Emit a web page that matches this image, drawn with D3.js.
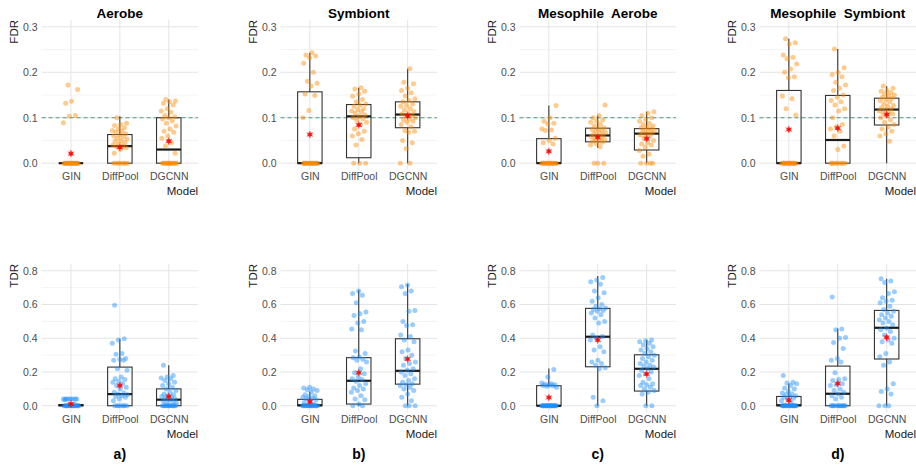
<!DOCTYPE html>
<html>
<head>
<meta charset="utf-8">
<script src="https://cdn.jsdelivr.net/npm/d3@7"></script>
<style>
  body { margin: 0; background: #fff; }
  text { font-family: "Liberation Sans", Arial, sans-serif; }
</style>
</head>
<body>
<div class="canvas"></div>
<script>
// categories and labels
const models = ['GIN', 'DiffPool', 'DGCNN'];
const titles = ['Aerobe', 'Symbiont', 'Mesophile  Aerobe', 'Mesophile  Symbiont'];
const tags = ['a)', 'b)', 'c)', 'd)'];
const fdrTicks = [0, 0.1, 0.2, 0.3];
const fdrMinor = [0.05, 0.15, 0.25];
const tdrTicks = [0, 0.2, 0.4, 0.6, 0.8];
const tdrMinor = [0.1, 0.3, 0.5, 0.7];
const fdrTarget = 0.1;

// box summaries per panel, per model: [lower whisker, q1, median, q3, upper whisker]
const fdrBoxes = [
  [[0, 0, 0, 0, 0], [0, 0, 0.0375, 0.063, 0.103], [0, 0, 0.030, 0.100, 0.140]],
  [[0, 0, 0, 0.157, 0.243], [0, 0.012, 0.103, 0.129, 0.166], [0, 0.078, 0.107, 0.135, 0.208]],
  [[0, 0, 0, 0.054, 0.127], [0.034, 0.047, 0.061, 0.077, 0.105], [0, 0.029, 0.065, 0.076, 0.113]],
  [[0, 0, 0, 0.160, 0.274], [0, 0, 0.051, 0.149, 0.251], [0, 0.084, 0.118, 0.143, 0.169]]
];
const fdrMeans = [
  [0.021, 0.035, 0.0485],
  [0.063, 0.084, 0.104],
  [0.026, 0.057, 0.054],
  [0.074, 0.077, 0.107]
];
const tdrBoxes = [
  [[0, 0, 0.003, 0.006, 0.010], [0, 0, 0.069, 0.229, 0.397], [0, 0, 0.036, 0.100, 0.240]],
  [[0, 0, 0.003, 0.038, 0.083], [0, 0.010, 0.148, 0.285, 0.686], [0, 0.128, 0.207, 0.397, 0.721]],
  [[0, 0, 0, 0.119, 0.221], [0, 0.231, 0.409, 0.577, 0.769], [0, 0.087, 0.219, 0.302, 0.389]],
  [[0, 0, 0.003, 0.055, 0.132], [0, 0, 0.071, 0.235, 0.458], [0, 0.277, 0.462, 0.565, 0.753]]
];
const tdrMeans = [
  [0.010, 0.120, 0.055],
  [0.024, 0.196, 0.277],
  [0.049, 0.389, 0.188],
  [0.032, 0.132, 0.405]
];

// individual runs (GIN, DiffPool, DGCNN)
const fdrAerobe = [
  [0.172, 0.162, 0.136, 0.132, 0.105, 0.103, 0.089, 0, 0, 0, 0, 0, 0, 0, 0, 0, 0, 0, 0, 0, 0, 0, 0, 0, 0, 0, 0],
  [0.1, 0.088, 0.085, 0.083, 0.078, 0.075, 0.072, 0.07, 0.068, 0.065, 0.062, 0.06, 0.058, 0.055, 0.053, 0.05, 0.048, 0.045, 0.043, 0.04, 0.038, 0.036, 0.034, 0.03, 0.022, 0, 0, 0, 0, 0, 0, 0, 0],
  [0.14, 0.137, 0.135, 0.132, 0.128, 0.12, 0.115, 0.112, 0.105, 0.102, 0.1, 0.097, 0.093, 0.088, 0.082, 0.075, 0.07, 0.068, 0.06, 0.055, 0.045, 0.038, 0.022, 0, 0, 0, 0, 0, 0, 0, 0, 0, 0, 0, 0, 0, 0]
];
const fdrSymbiont = [
  [0.243, 0.238, 0.236, 0.232, 0.22, 0.2, 0.18, 0.176, 0.17, 0.152, 0.149, 0.116, 0.1, 0, 0, 0, 0, 0, 0, 0, 0, 0, 0, 0, 0, 0, 0, 0, 0, 0, 0],
  [0.166, 0.163, 0.158, 0.152, 0.147, 0.14, 0.135, 0.13, 0.128, 0.125, 0.12, 0.118, 0.115, 0.113, 0.11, 0.106, 0.103, 0.1, 0.098, 0.095, 0.09, 0.085, 0.075, 0.07, 0.065, 0.06, 0.052, 0.04, 0, 0, 0],
  [0.208, 0.178, 0.175, 0.165, 0.16, 0.155, 0.148, 0.142, 0.138, 0.135, 0.13, 0.127, 0.125, 0.12, 0.117, 0.113, 0.11, 0.108, 0.105, 0.102, 0.1, 0.097, 0.095, 0.092, 0.09, 0.085, 0.08, 0.072, 0.07, 0.068, 0.05, 0.045, 0.032, 0, 0]
];
const fdrMesoAerobe = [
  [0.127, 0.1, 0.092, 0.088, 0.086, 0.075, 0.073, 0.072, 0.055, 0.05, 0.045, 0.042, 0, 0, 0, 0, 0, 0, 0, 0, 0, 0, 0, 0, 0, 0, 0, 0],
  [0.128, 0.105, 0.1, 0.095, 0.092, 0.09, 0.085, 0.082, 0.078, 0.076, 0.074, 0.072, 0.07, 0.068, 0.066, 0.064, 0.062, 0.06, 0.058, 0.056, 0.054, 0.052, 0.05, 0.048, 0.046, 0.043, 0.04, 0.036, 0, 0, 0],
  [0.113, 0.11, 0.105, 0.1, 0.096, 0.092, 0.088, 0.085, 0.082, 0.08, 0.078, 0.076, 0.074, 0.072, 0.07, 0.068, 0.066, 0.064, 0.062, 0.06, 0.055, 0.05, 0.045, 0.042, 0.04, 0.035, 0.028, 0.02, 0.015, 0, 0, 0, 0]
];
const fdrMesoSymbiont = [
  [0.274, 0.265, 0.262, 0.238, 0.233, 0.23, 0.218, 0.207, 0.2, 0.19, 0.188, 0.148, 0.142, 0.12, 0.106, 0, 0, 0, 0, 0, 0, 0, 0, 0, 0, 0, 0, 0, 0, 0, 0, 0],
  [0.251, 0.21, 0.2, 0.195, 0.19, 0.178, 0.172, 0.165, 0.16, 0.15, 0.145, 0.138, 0.135, 0.128, 0.12, 0.115, 0.1, 0.085, 0.08, 0.075, 0.07, 0.06, 0.038, 0.03, 0, 0, 0, 0, 0, 0, 0, 0, 0],
  [0.17, 0.165, 0.16, 0.158, 0.155, 0.152, 0.15, 0.148, 0.145, 0.143, 0.14, 0.138, 0.135, 0.13, 0.127, 0.125, 0.122, 0.12, 0.118, 0.115, 0.112, 0.11, 0.108, 0.105, 0.1, 0.095, 0.09, 0.085, 0.08, 0.075, 0.07, 0.065, 0.06, 0.048]
];
const tdrAerobe = [
  [0.04, 0.04, 0.04, 0.04, 0.04, 0.04, 0.04, 0.04, 0.035, 0.01, 0.005, 0, 0, 0, 0, 0, 0, 0, 0, 0, 0, 0, 0, 0, 0, 0, 0],
  [0.595, 0.397, 0.39, 0.37, 0.31, 0.305, 0.28, 0.275, 0.27, 0.27, 0.22, 0.21, 0.17, 0.16, 0.155, 0.145, 0.14, 0.13, 0.12, 0.11, 0.1, 0.08, 0.075, 0.07, 0.065, 0.06, 0.055, 0.05, 0.04, 0.03, 0, 0, 0, 0, 0, 0, 0],
  [0.24, 0.18, 0.17, 0.165, 0.16, 0.15, 0.14, 0.13, 0.12, 0.11, 0.1, 0.09, 0.08, 0.07, 0.065, 0.06, 0.055, 0.05, 0.045, 0.04, 0.035, 0.03, 0.025, 0.02, 0.015, 0, 0, 0, 0, 0, 0, 0, 0, 0, 0, 0, 0]
];
const tdrSymbiont = [
  [0.11, 0.105, 0.1, 0.095, 0.09, 0.08, 0.065, 0.06, 0.055, 0.05, 0.045, 0.04, 0.035, 0.03, 0.02, 0.01, 0, 0, 0, 0, 0, 0, 0, 0, 0, 0, 0, 0, 0, 0, 0, 0],
  [0.68, 0.665, 0.655, 0.61, 0.555, 0.545, 0.535, 0.5, 0.49, 0.455, 0.45, 0.325, 0.31, 0.29, 0.285, 0.275, 0.27, 0.26, 0.22, 0.195, 0.19, 0.17, 0.16, 0.155, 0.145, 0.13, 0.12, 0.105, 0.1, 0.09, 0.08, 0.06, 0.04, 0.035, 0.01, 0, 0],
  [0.715, 0.705, 0.68, 0.665, 0.565, 0.56, 0.5, 0.48, 0.475, 0.42, 0.41, 0.39, 0.38, 0.33, 0.32, 0.3, 0.28, 0.26, 0.25, 0.24, 0.22, 0.21, 0.2, 0.19, 0.18, 0.16, 0.15, 0.14, 0.13, 0.125, 0.12, 0.11, 0.1, 0.09, 0.07, 0.05, 0.03, 0, 0, 0]
];
const tdrMesoAerobe = [
  [0.215, 0.17, 0.135, 0.13, 0.128, 0.125, 0.123, 0.12, 0.118, 0.115, 0.11, 0, 0, 0, 0, 0, 0, 0, 0, 0, 0, 0, 0, 0, 0, 0, 0, 0, 0, 0, 0, 0, 0],
  [0.76, 0.745, 0.735, 0.72, 0.68, 0.67, 0.64, 0.62, 0.6, 0.59, 0.58, 0.575, 0.57, 0.565, 0.56, 0.55, 0.54, 0.52, 0.5, 0.49, 0.42, 0.41, 0.4, 0.39, 0.35, 0.33, 0.32, 0.27, 0.26, 0.25, 0.24, 0.225, 0.22, 0.05, 0.03, 0],
  [0.39, 0.385, 0.38, 0.37, 0.36, 0.35, 0.34, 0.33, 0.32, 0.31, 0.3, 0.29, 0.28, 0.27, 0.26, 0.25, 0.24, 0.235, 0.23, 0.22, 0.21, 0.2, 0.19, 0.18, 0.16, 0.14, 0.13, 0.125, 0.12, 0.11, 0.1, 0.09, 0.08, 0.07, 0, 0]
];
const tdrMesoSymbiont = [
  [0.18, 0.14, 0.135, 0.13, 0.12, 0.105, 0.1, 0.085, 0.075, 0.07, 0.065, 0.06, 0.055, 0.05, 0.045, 0.04, 0.03, 0.02, 0, 0, 0, 0, 0, 0, 0, 0, 0, 0, 0, 0, 0, 0, 0, 0, 0, 0],
  [0.645, 0.455, 0.45, 0.405, 0.4, 0.375, 0.34, 0.28, 0.27, 0.26, 0.195, 0.16, 0.155, 0.15, 0.13, 0.125, 0.12, 0.1, 0.09, 0.08, 0.07, 0.06, 0.05, 0.04, 0, 0, 0, 0, 0, 0, 0, 0, 0, 0, 0, 0],
  [0.753, 0.74, 0.73, 0.675, 0.665, 0.64, 0.625, 0.62, 0.61, 0.59, 0.57, 0.56, 0.55, 0.54, 0.53, 0.52, 0.51, 0.5, 0.49, 0.48, 0.46, 0.45, 0.44, 0.42, 0.4, 0.39, 0.38, 0.37, 0.31, 0.29, 0.26, 0.24, 0.13, 0.1, 0.085, 0.07, 0, 0, 0]
];

const width = 916, height = 467;
const svg = d3.select('.canvas')
    .append('svg')
    .attr('width', width)
    .attr('height', height);

// panel geometry
const panelLeft = [41.6, 280.5, 519.5, 759.5];
const panelW = 156.5;

const rows = [
    { label: 'FDR', top: 20, bottom: 170, domain: [-0.015, 0.315], ticks: fdrTicks, minor: fdrMinor,
      boxes: fdrBoxes, means: fdrMeans, points: [fdrAerobe, fdrSymbiont, fdrMesoAerobe, fdrMesoSymbiont],
      color: '#ff8c00', ref: fdrTarget },
    { label: 'TDR', top: 264, bottom: 412.5, domain: [-0.04, 0.84], ticks: tdrTicks, minor: tdrMinor,
      boxes: tdrBoxes, means: tdrMeans, points: [tdrAerobe, tdrSymbiont, tdrMesoAerobe, tdrMesoSymbiont],
      color: '#1e90ff', ref: null }
];

// deterministic spread for the jittered points
const jitter = i => ((i * 0.6180339 + 0.31) % 1) - 0.5;
const star = d3.symbol().type(d3.symbolAsterisk).size(36);

rows.forEach((row, r) => {
    titles.forEach((title, p) => {
        const left = panelLeft[p];
        const x = d3.scalePoint()
            .domain(models)
            .range([left, left + panelW])
            .padding(0.6);
        const step = x.step();
        const y = d3.scaleLinear()
            .domain(row.domain)
            .range([row.bottom, row.top]);

        const g = svg.append('g');

        // grid
        g.selectAll('.minor')
            .data(row.minor)
            .enter().append('line')
            .attr('x1', left).attr('x2', left + panelW)
            .attr('y1', d => y(d)).attr('y2', d => y(d))
            .attr('stroke', '#efefef').attr('stroke-width', 0.7);
        g.selectAll('.major')
            .data(row.ticks)
            .enter().append('line')
            .attr('x1', left).attr('x2', left + panelW)
            .attr('y1', d => y(d)).attr('y2', d => y(d))
            .attr('stroke', '#e4e4e4').attr('stroke-width', 1);
        g.selectAll('.vgrid')
            .data(models)
            .enter().append('line')
            .attr('x1', d => x(d)).attr('x2', d => x(d))
            .attr('y1', row.top).attr('y2', row.bottom)
            .attr('stroke', '#e4e4e4').attr('stroke-width', 1);

        // axes
        const yAxis = d3.axisLeft(y)
            .tickValues(row.ticks)
            .tickSize(0)
            .tickPadding(4)
            .tickFormat(d3.format('.1f'));
        const xAxis = d3.axisBottom(x)
            .tickSize(0)
            .tickPadding(3);

        const yAxisGroup = g.append('g')
            .attr('transform', `translate(${left},0)`)
            .call(yAxis);
        const xAxisGroup = g.append('g')
            .attr('transform', `translate(0,${row.bottom})`)
            .call(xAxis);
        [yAxisGroup, xAxisGroup].forEach(a => {
            a.select('.domain').remove();
            a.selectAll('text')
                .attr('fill', '#4d4d4d')
                .attr('font-size', 10.5)
                .attr('font-family', '"Liberation Sans", Arial, sans-serif');
        });

        // axis titles
        g.append('text')
            .attr('transform', `translate(${left - 24},${row.top}) rotate(-90)`)
            .attr('text-anchor', 'end')
            .attr('font-size', 11.5)
            .attr('fill', '#1a1a1a')
            .text(row.label);
        g.append('text')
            .attr('x', left + panelW)
            .attr('y', row.bottom + 25)
            .attr('text-anchor', 'end')
            .attr('font-size', 11.5)
            .attr('fill', '#1a1a1a')
            .text('Model');

        // reference line
        if (row.ref !== null) {
            g.append('line')
                .attr('x1', left).attr('x2', left + panelW)
                .attr('y1', y(row.ref)).attr('y2', y(row.ref))
                .attr('stroke', '#4f9a86')
                .attr('stroke-width', 1.1)
                .attr('stroke-dasharray', '4,3');
        }

        // boxplots
        const boxW = step * 0.5;
        const boxes = row.boxes[p].map((b, i) => ({ model: models[i], b }));
        const bg = g.selectAll('.box')
            .data(boxes)
            .enter().append('g');
        bg.append('line')
            .attr('x1', d => x(d.model)).attr('x2', d => x(d.model))
            .attr('y1', d => y(d.b[3])).attr('y2', d => y(d.b[4]))
            .attr('stroke', '#333').attr('stroke-width', 1.1);
        bg.append('line')
            .attr('x1', d => x(d.model)).attr('x2', d => x(d.model))
            .attr('y1', d => y(d.b[0])).attr('y2', d => y(d.b[1]))
            .attr('stroke', '#333').attr('stroke-width', 1.1);
        bg.append('rect')
            .attr('x', d => x(d.model) - boxW / 2)
            .attr('width', boxW)
            .attr('y', d => y(d.b[3]))
            .attr('height', d => Math.max(0, y(d.b[1]) - y(d.b[3])))
            .attr('fill', 'none')
            .attr('stroke', '#333').attr('stroke-width', 1.1);
        bg.append('line')
            .attr('x1', d => x(d.model) - boxW / 2).attr('x2', d => x(d.model) + boxW / 2)
            .attr('y1', d => y(d.b[2])).attr('y2', d => y(d.b[2]))
            .attr('stroke', '#1a1a1a').attr('stroke-width', 2.2);

        // jittered points
        const pts = [];
        row.points[p].forEach((vals, i) => {
            vals.forEach((v, k) => pts.push({ model: models[i], v, k }));
        });
        g.selectAll('.pt')
            .data(pts)
            .enter().append('circle')
            .attr('cx', d => x(d.model) + jitter(d.k + 7 * p + 3 * r) * step * 0.32)
            .attr('cy', d => y(d.v))
            .attr('r', 2.5)
            .attr('fill', row.color)
            .attr('fill-opacity', 0.45);

        // means
        const means = row.means[p].map((m, i) => ({ model: models[i], m }));
        g.selectAll('.meanDot')
            .data(means)
            .enter().append('circle')
            .attr('cx', d => x(d.model))
            .attr('cy', d => y(d.m))
            .attr('r', 2.3)
            .attr('fill', 'red')
            .attr('fill-opacity', 0.75);
        g.selectAll('.mean')
            .data(means)
            .enter().append('path')
            .attr('d', star)
            .attr('transform', d => `translate(${x(d.model)},${y(d.m)})`)
            .attr('fill', 'none')
            .attr('stroke', 'red')
            .attr('stroke-width', 1)
            .attr('stroke-opacity', 0.7);

        // titles / tags
        if (r === 0) {
            g.append('text')
                .attr('x', left + panelW / 2)
                .attr('y', 18)
                .attr('text-anchor', 'middle')
                .attr('font-size', 13.5)
                .attr('font-weight', 'bold')
                .style('white-space', 'pre')
                .text(title);
        } else {
            g.append('text')
                .attr('x', left + panelW / 2)
                .attr('y', 459)
                .attr('text-anchor', 'middle')
                .attr('font-size', 14)
                .attr('font-weight', 'bold')
                .text(tags[p]);
        }
    });
});
</script>
</body>
</html>
